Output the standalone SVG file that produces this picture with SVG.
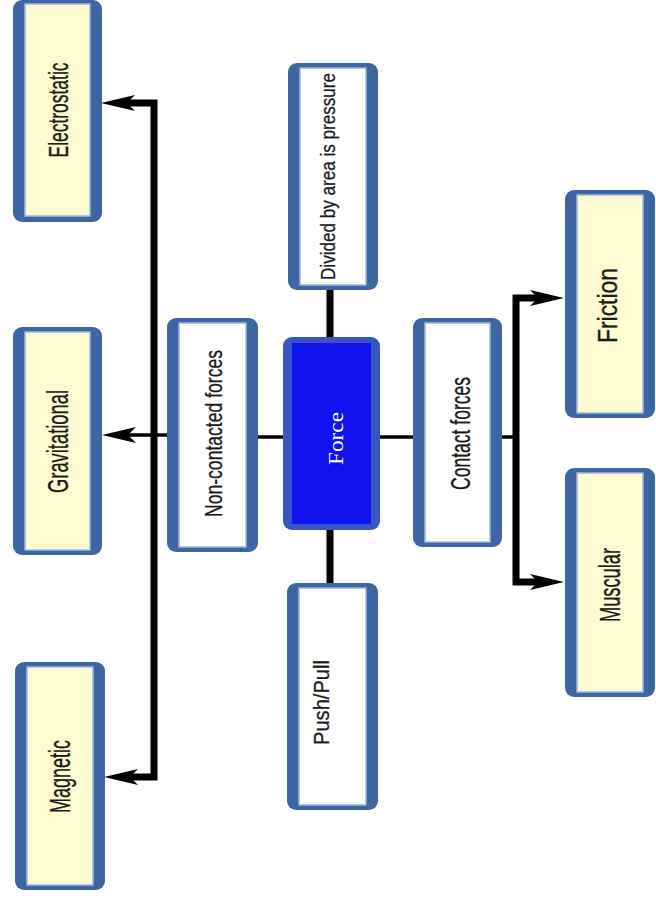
<svg xmlns="http://www.w3.org/2000/svg" width="656" height="900" viewBox="0 0 656 900">
<style>
.ob{fill:#3e66a3}
.iy{fill:#fefbd2;stroke:#9db8e0;stroke-width:1.5}
.iw{fill:#ffffff;stroke:#9db8e0;stroke-width:1.5}
.t{font-family:"Liberation Sans",Arial,sans-serif;fill:#1a1a1a;stroke:#1a1a1a;stroke-width:0.3;text-anchor:middle}
.tf{font-family:"Liberation Serif","Times New Roman",serif;fill:#ffffff;text-anchor:middle}
.c{fill:none;stroke:#000;stroke-linejoin:miter}
</style>
<defs>
<marker id="ah" markerUnits="userSpaceOnUse" viewBox="0 0 34 16" refX="8" refY="8" markerWidth="34" markerHeight="16" orient="auto-start-reverse">
<path d="M0,0 L34,8 L0,16 L8,8 z" fill="#000"/>
</marker>
</defs>
<rect width="656" height="900" fill="#fff"/>
<g id="connectors">
<path class="c" stroke-width="7" d="M127,103 H154 V777 H130" marker-start="url(#ah)" marker-end="url(#ah)"/>
<path class="c" stroke-width="3.5" d="M167,435 H128" marker-end="url(#ah)"/>
<path class="c" stroke-width="3.5" d="M258,437 H283"/>
<path class="c" stroke-width="3.5" d="M380,437 H413"/>
<path class="c" stroke-width="3.5" d="M502,437 H516"/>
<path class="c" stroke-width="7" d="M538,298 H516 V582 H538" marker-start="url(#ah)" marker-end="url(#ah)"/>
<path class="c" stroke-width="7" d="M330,290 V337"/>
<path class="c" stroke-width="7" d="M330,530 V583"/>
</g>
<g id="electrostatic">
<rect class="ob" x="13" y="0" width="89" height="222" rx="9"/>
<rect class="iy" x="25" y="4" width="65" height="212"/>
<text class="t" font-size="28" textLength="95" lengthAdjust="spacingAndGlyphs" transform="translate(68,110) rotate(-90)">Electrostatic</text>
</g>
<g id="gravitational">
<rect class="ob" x="13" y="327" width="89" height="228" rx="9"/>
<rect class="iy" x="25" y="332" width="65" height="218"/>
<text class="t" font-size="29" textLength="103" lengthAdjust="spacingAndGlyphs" transform="translate(68,441.5) rotate(-90)">Gravitational</text>
</g>
<g id="magnetic">
<rect class="ob" x="15" y="662" width="90" height="228" rx="9"/>
<rect class="iy" x="27" y="667" width="66" height="218"/>
<text class="t" font-size="29" textLength="73" lengthAdjust="spacingAndGlyphs" transform="translate(70,776.5) rotate(-90)">Magnetic</text>
</g>
<g id="non-contacted">
<rect class="ob" x="167" y="318" width="91" height="234" rx="9"/>
<rect class="iw" x="179" y="323" width="67" height="224"/>
<text class="t" font-size="24" textLength="167" lengthAdjust="spacingAndGlyphs" transform="translate(222,433.5) rotate(-90)">Non-contacted forces</text>
</g>
<g id="force">
<rect x="283" y="337" width="97" height="193" rx="9" fill="#3556c4"/>
<rect x="292" y="343" width="79" height="181" fill="#1212ee"/>
<text class="tf" font-size="22" textLength="53" lengthAdjust="spacingAndGlyphs" transform="translate(343,438.5) rotate(-90)">Force</text>
</g>
<g id="divided">
<rect class="ob" x="288" y="63" width="90" height="227" rx="9"/>
<rect class="iw" x="300" y="68" width="66" height="217"/>
<text class="t" font-size="21" textLength="207" lengthAdjust="spacingAndGlyphs" transform="translate(335,176.5) rotate(-90)">Divided by area is pressure</text>
</g>
<g id="pushpull">
<rect class="ob" x="287" y="583" width="91" height="227" rx="9"/>
<rect class="iw" x="299" y="588" width="67" height="217"/>
<text class="t" font-size="22" textLength="85" lengthAdjust="spacingAndGlyphs" transform="translate(329,702.5) rotate(-90)">Push/Pull</text>
</g>
<g id="contact">
<rect class="ob" x="413" y="318" width="89" height="229" rx="9"/>
<rect class="iw" x="425" y="323" width="65" height="219"/>
<text class="t" font-size="27" textLength="113" lengthAdjust="spacingAndGlyphs" transform="translate(470,433.5) rotate(-90)">Contact forces</text>
</g>
<g id="friction">
<rect class="ob" x="565" y="190" width="90" height="228" rx="9"/>
<rect class="iy" x="577" y="195" width="66" height="218"/>
<text class="t" font-size="27" textLength="75" lengthAdjust="spacingAndGlyphs" transform="translate(617,305.5) rotate(-90)">Friction</text>
</g>
<g id="muscular">
<rect class="ob" x="565" y="468" width="90" height="229" rx="9"/>
<rect class="iy" x="577" y="473" width="66" height="219"/>
<text class="t" font-size="29" textLength="74" lengthAdjust="spacingAndGlyphs" transform="translate(620,585) rotate(-90)">Muscular</text>
</g>
</svg>
